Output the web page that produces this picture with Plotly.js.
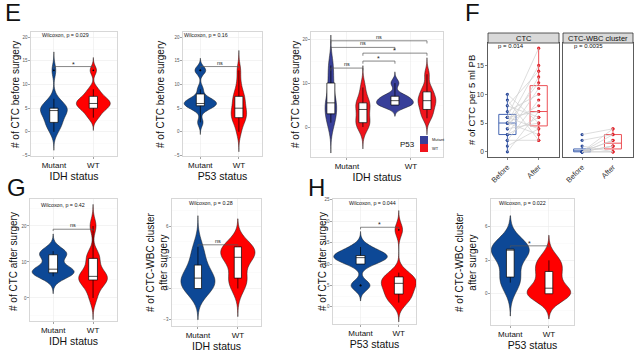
<!DOCTYPE html>
<html><head><meta charset="utf-8">
<script src="https://cdn.plot.ly/plotly-3.0.1.min.js"></script>
<style>html,body{margin:0;padding:0;background:#fff}#chart{width:640px;height:355px}</style>
</head><body><div id="chart"></div>
<script>
// ================= DATA =================
const statusLevels = ['Mutant', 'WT'];
// E (left): # of CTC before surgery by IDH status
const e1IdhMutant = [0,1,2,2,3,4,4,5,5,5,5,6,7,13];
const e1IdhWT     = [3,4,5,5,6,6,6,7,7,8,9,13];
// E (middle): # of CTC before surgery by P53 status
const e2P53Mutant = [2,5,5,6,6,6,6,7,7,9,13,13];
const e2P53WT     = [0,2,3,3,4,5,5,7,7,8,10,13];
// E (right): IDH status x P53 status
const e3Groups = ['IDH Mutant / P53 Mutant','IDH Mutant / P53 WT','IDH WT / P53 Mutant','IDH WT / P53 WT'];
const e3IdhMutP53Mut = [1,3,5,6,10,14];
const e3IdhMutP53WT  = [0,1,1,3,5,5,6,9];
const e3IdhWTP53Mut  = [5,5,5,6,6,7,7,10];
const e3IdhWTP53WT   = [2,3,4,5,6,6,7,8,9,12];
// F: paired counts per 5 ml PB
const fTimes = ['Before', 'After'];
const fCtcBefore = [0,1,2,2,3,3,4,4,5,5,5,5,6,6,6,7,8,8,9,10];
const fCtcAfter  = [7,4,9,2,11,6,13,5,15,3,8,12,4,18,7,10,6,14,2,5];
const fClusterBefore = [0,0,0,0,0,0,0,0,0,1,2,3];
const fClusterAfter  = [0,0,1,1,2,2,3,1,4,0,3,4];
// G: after surgery by IDH status
const g1IdhMutant = [6,7,7,8,8,12,12,13];
const g1IdhWT     = [0,3,5,5,6,6,8,11,12,20];
const g2IdhMutant = [0,0,0,1,1,1,2,3,4];
const g2IdhWT     = [0,1,1,3,3,3,4,4,4];
// H: after surgery by P53 status
const h1P53Mutant = [5,5,10,11,11,12,12,12,13,14];
const h1P53WT     = [1,2,3,4,5,6,6,7,8,18];
const h2P53Mutant = [1,1,2,4,4,4,4,4];
const h2P53WT     = [0,0,0,0,0,1,2,2,3,3];
// test labels
const wilcoxE = ['Wilcoxon, p = 0.029', 'Wilcoxon, p = 0.16'];
const pF = ['p = 0.014', 'p = 0.0035'];
const wilcoxG = ['Wilcoxon, p = 0.42', 'Wilcoxon, p = 0.28'];
const wilcoxH = ['Wilcoxon, p = 0.044', 'Wilcoxon, p = 0.022'];

// ================= STYLE =================
const FONT = 'Liberation Sans, Arial, Helvetica, sans-serif';
const BLUE = '#0D4896', RED = '#FF0000', BLUE3 = '#383F99', RED3 = '#F0141C';
const W = 640, H = 355;

// gaussian KDE peak (same kernel as the violin), used to scale violins by area like ggplot
function kdePeak(vals, bw) {
  const lo = Math.min(...vals) - 3 * bw, hi = Math.max(...vals) + 3 * bw;
  let peak = 0;
  for (let k = 0; k <= 400; k++) {
    const v = lo + (hi - lo) * k / 400;
    let s = 0;
    vals.forEach(x => { const u = (v - x) / bw; s += Math.exp(-0.5 * u * u); });
    peak = Math.max(peak, s / (vals.length * bw * Math.sqrt(2 * Math.PI)));
  }
  return peak;
}
function violin(vals, cat, color, n, bw, width, boxw) {
  const lo = Math.min(...vals) - 3 * bw, hi = Math.max(...vals) + 3 * bw;
  const s = n > 1 ? n : '';
  return {
    type: 'violin', x: vals.map(() => cat), y: vals, xaxis: 'x' + s, yaxis: 'y' + s,
    fillcolor: color, line: {color: '#1a1a1a', width: 0.5},
    bandwidth: bw, spanmode: 'manual', span: [lo, hi],
    scalemode: 'width', width: width,
    box: {visible: true, width: Math.min(1, boxw), fillcolor: 'white', line: {color: '#000', width: 0.7}},
    meanline: {visible: false}, points: 'outliers', pointpos: 0, jitter: 0,
    marker: {size: 1.8, color: '#000', line: {width: 0}},
    hoverinfo: 'skip', showlegend: false
  };
}
function panelViolins(n, specs, maxWidth, boxCat) {
  const peaks = specs.map(s => kdePeak(s.vals, s.bw));
  const pmax = Math.max(...peaks);
  return specs.map((s, i) => {
    const w = maxWidth * peaks[i] / pmax;
    return violin(s.vals, s.cat, s.color, n, s.bw, w, boxCat / w);
  });
}
function pairLines(before, after, n) {
  const x = [], y = [];
  before.forEach((b, i) => { x.push(fTimes[0], fTimes[1], null); y.push(b, after[i], null); });
  return {type: 'scatter', mode: 'lines', x, y, xaxis: 'x' + n, yaxis: 'y' + n,
    line: {color: '#CFCFCF', width: 0.7}, hoverinfo: 'skip', showlegend: false};
}
function fBox(vals, t, color, ptColor, n) {
  return {type: 'box', x: vals.map(() => t), y: vals, xaxis: 'x' + n, yaxis: 'y' + n,
    width: 0.55, fillcolor: 'rgba(0,0,0,0)', line: {color, width: 1}, whiskerwidth: 0,
    boxpoints: 'all', jitter: 0, pointpos: 0, marker: {color: ptColor, size: 3.2},
    hoverinfo: 'skip', showlegend: false};
}

const traces = [].concat(
  panelViolins(1, [
    {vals: e1IdhMutant, cat: statusLevels[0], color: BLUE, bw: 1.3},
    {vals: e1IdhWT, cat: statusLevels[1], color: RED, bw: 0.9}], 0.86, 0.21),
  panelViolins(2, [
    {vals: e2P53Mutant, cat: statusLevels[0], color: BLUE, bw: 0.85},
    {vals: e2P53WT, cat: statusLevels[1], color: RED, bw: 1.4}], 0.84, 0.21),
  panelViolins(3, [
    {vals: e3IdhMutP53Mut, cat: e3Groups[0], color: BLUE3, bw: 2.3},
    {vals: e3IdhMutP53WT, cat: e3Groups[1], color: RED3, bw: 1.65},
    {vals: e3IdhWTP53Mut, cat: e3Groups[2], color: BLUE3, bw: 0.85},
    {vals: e3IdhWTP53WT, cat: e3Groups[3], color: RED3, bw: 1.25}], 1.15, 0.25),
  [pairLines(fCtcBefore, fCtcAfter, 4),
   fBox(fCtcBefore, fTimes[0], '#4566B2', '#2C4B9B', 4),
   fBox(fCtcAfter, fTimes[1], '#EC5157', '#E3262E', 4),
   pairLines(fClusterBefore, fClusterAfter, 5),
   fBox(fClusterBefore, fTimes[0], '#4566B2', '#2C4B9B', 5),
   fBox(fClusterAfter, fTimes[1], '#EC5157', '#E3262E', 5)],
  panelViolins(6, [
    {vals: g1IdhMutant, cat: statusLevels[0], color: BLUE, bw: 1.6},
    {vals: g1IdhWT, cat: statusLevels[1], color: RED, bw: 2.0}], 1.05, 0.22),
  panelViolins(7, [
    {vals: g2IdhMutant, cat: statusLevels[0], color: BLUE, bw: 1.0},
    {vals: g2IdhWT, cat: statusLevels[1], color: RED, bw: 0.9}], 0.86, 0.18),
  panelViolins(8, [
    {vals: h1P53Mutant, cat: statusLevels[0], color: BLUE, bw: 1.2},
    {vals: h1P53WT, cat: statusLevels[1], color: RED, bw: 1.5}], 1.4, 0.23),
  panelViolins(9, [
    {vals: h2P53Mutant, cat: statusLevels[0], color: BLUE, bw: 1.0},
    {vals: h2P53WT, cat: statusLevels[1], color: RED, bw: 0.75}], 1.12, 0.2)
);

// ================= AXES =================
function xCat(n, dom, range, title, o) {
  return Object.assign({
    anchor: 'y' + (n > 1 ? n : ''), domain: [dom[0] / W, dom[1] / W], type: 'category',
    categoryorder: 'array', categoryarray: statusLevels, range,
    showgrid: true, gridcolor: '#EBEBEB', gridwidth: 0.6, zeroline: false,
    showline: true, mirror: true, linecolor: '#BDBDBD', linewidth: 0.6,
    ticks: 'outside', ticklen: 2, tickcolor: '#666', tickwidth: 0.6,
    tickfont: {size: 8, color: '#111', family: FONT},
    title: {text: title, font: {size: 10.5, color: '#111', family: FONT}, standoff: 3},
    fixedrange: true
  }, o || {});
}
function yNum(n, dom, range, dtick, o) {
  return Object.assign({
    anchor: 'x' + (n > 1 ? n : ''), domain: [1 - dom[1] / H, 1 - dom[0] / H], range, dtick, tick0: 0,
    showgrid: true, gridcolor: '#EBEBEB', gridwidth: 0.6,
    minor: {showgrid: true, dtick: dtick / 2, tick0: 0, gridcolor: '#F5F5F5', gridwidth: 0.4},
    zeroline: false, showline: true, mirror: true, linecolor: '#BDBDBD', linewidth: 0.6,
    ticks: 'outside', ticklen: 2, tickcolor: '#666', tickwidth: 0.6,
    tickfont: {size: 4.5, color: '#555', family: FONT},
    title: {text: ''}, fixedrange: true
  }, o || {});
}
const fX = {categoryarray: fTimes, showgrid: false, linecolor: '#333', linewidth: 0.8, tickangle: -45,
  tickcolor: '#333', tickfont: {size: 7.5, color: '#333', family: FONT}, title: {text: ''}};
const fY = {showgrid: false, minor: {showgrid: false}, linecolor: '#333', linewidth: 0.8, tickcolor: '#333',
  tickfont: {size: 6.5, color: '#333', family: FONT}};

const layout = {
  width: W, height: H, margin: {l: 0, r: 0, t: 0, b: 0},
  paper_bgcolor: '#fff', plot_bgcolor: '#fff', showlegend: false,
  violinmode: 'overlay', boxmode: 'overlay', font: {family: FONT, color: '#111'},
  xaxis: xCat(1, [31, 117], [-0.58, 1.6], 'IDH status'),
  yaxis: yNum(1, [32, 156], [-5.1, 21.1], 5),
  xaxis2: xCat(2, [183, 262], [-0.45, 1.6], 'P53 status'),
  yaxis2: yNum(2, [32, 156], [-5.1, 21.1], 5),
  xaxis3: xCat(3, [311, 443], [-0.62, 3.5], 'IDH status', {categoryarray: e3Groups, tickmode: 'array', tickvals: [0.5, 2.5], ticktext: statusLevels}),
  yaxis3: yNum(3, [32, 157], [-6.8, 21.6], 10),
  xaxis4: xCat(4, [488, 559], [-0.62, 1.65], '', fX),
  yaxis4: yNum(4, [43, 157], [-0.9, 18.9], 5, fY),
  xaxis5: xCat(5, [563, 633], [-0.62, 1.65], '', fX),
  yaxis5: yNum(5, [43, 157], [-0.9, 18.9], 5, Object.assign({}, fY, {showticklabels: false, ticks: ''})),
  xaxis6: xCat(6, [30, 117], [-0.58, 1.6], 'IDH status'),
  yaxis6: yNum(6, [199, 321], [-6.4, 27.5], 10),
  xaxis7: xCat(7, [172, 261], [-0.65, 1.58], 'IDH status'),
  yaxis7: yNum(7, [199, 326], [-3.6, 8.6], 3),
  xaxis8: xCat(8, [333, 416], [-0.72, 1.45], 'P53 status'),
  yaxis8: yNum(8, [199, 324], [-4, 25.2], 5),
  xaxis9: xCat(9, [491, 574], [-0.5, 1.65], 'P53 status'),
  yaxis9: yNum(9, [199, 325], [-2.8, 8.5], 3)
};

// ================= ANNOTATIONS / SHAPES =================
const ann = [], shapes = [];
function txt(x, y, text, size, o) {
  ann.push(Object.assign({xref: 'paper', yref: 'paper', x: x / W, y: 1 - y / H, text, showarrow: false,
    font: {size, color: '#111', family: FONT}, xanchor: 'center', yanchor: 'middle'}, o || {}));
}
function ytitle(x, y, text, size) { txt(x, y, text, size || 10, {textangle: -90}); }
function bracket(n, x0, x1, y, tip, label) {
  const s = n > 1 ? n : '';
  const xr = 'x' + s, yr = 'y' + s, ln = {color: '#555', width: 0.7};
  shapes.push({type: 'line', xref: xr, yref: yr, x0, x1, y0: y, y1: y, line: ln});
  shapes.push({type: 'line', xref: xr, yref: yr, x0, x1: x0, y0: y, y1: y - tip, line: ln});
  shapes.push({type: 'line', xref: xr, yref: yr, x0: x1, x1, y0: y, y1: y - tip, line: ln});
  ann.push({xref: xr, yref: yr, x: (x0 + x1) / 2, y, text: label, showarrow: false, yanchor: 'bottom',
    yshift: label === '*' ? -3 : -1, font: {size: label === '*' ? 7 : 5.5, color: '#222', family: FONT}});
}
// panel letters
txt(13, 13, 'E', 24); txt(472, 13, 'F', 24); txt(16, 187, 'G', 24); txt(316, 187, 'H', 24);
// y axis titles
ytitle(16, 95, '# of CTC before surgery');
ytitle(161, 95, '# of CTC before surgery');
ytitle(296, 95, '# of CTC before surgery');
ytitle(471, 100, '# of CTC per 5 ml PB', 9.5);
ytitle(13, 262, '# of CTC after surgery');
ytitle(157, 262, '# of CTC-WBC cluster<br>after surgery');
ytitle(322, 262, '# of CTC after surgery');
ytitle(466, 262, '# of CTC-WBC cluster<br>after surgery');
// test labels
txt(65, 35, wilcoxE[0], 5.3); txt(206, 35, wilcoxE[1], 5.3);
txt(511, 46, pF[0], 6); txt(588, 46, pF[1], 6);
txt(63, 205, wilcoxG[0], 5.3); txt(211, 203, wilcoxG[1], 5.3);
txt(372, 203, wilcoxH[0], 5.3); txt(522, 203, wilcoxH[1], 5.3);
// brackets
bracket(1, 0, 1, 13.8, 0.4, '*');
bracket(2, 0, 1, 13.8, 0.4, 'ns');
bracket(3, 0, 1, 13.4, 0.6, 'ns');
bracket(3, 1, 2, 15.0, 0.6, '*');
bracket(3, 1, 3, 16.8, 0.6, '*');
bracket(3, 0, 2, 18.1, 0.6, 'ns');
bracket(3, 0, 3, 19.6, 0.6, 'ns');
bracket(6, 0, 1, 19.1, 0.5, 'ns');
bracket(7, 0, 1, 4.2, 0.15, 'ns');
bracket(8, 0, 1, 18.6, 0.5, '*');
bracket(9, 0, 1, 4.3, 0.15, '*');
// F strips
function prect(x0, y0, x1, y1, fill, line) {
  shapes.push({type: 'rect', xref: 'paper', yref: 'paper', x0: x0 / W, x1: x1 / W, y0: 1 - y1 / H, y1: 1 - y0 / H,
    fillcolor: fill, line: line || {width: 0}, layer: 'above'});
}
prect(488, 33, 559, 43, '#D9D9D9', {color: '#333', width: 0.8});
prect(563, 33, 633, 43, '#D9D9D9', {color: '#333', width: 0.8});
txt(523.5, 38.3, 'CTC', 7.5);
txt(598, 38.3, 'CTC-WBC cluster', 7.5);
// E3 legend
prect(420, 136, 428, 144, BLUE3);
prect(420, 144, 428, 152, RED3);
txt(417, 144, 'P53', 8, {xanchor: 'right'});
txt(430, 140, 'Mutant', 4, {xanchor: 'left'});
txt(430, 148, 'WT', 4, {xanchor: 'left'});

layout.annotations = ann;
layout.shapes = shapes;

Plotly.newPlot('chart', traces, layout, {staticPlot: true, displayModeBar: false});
</script>
</body></html>
